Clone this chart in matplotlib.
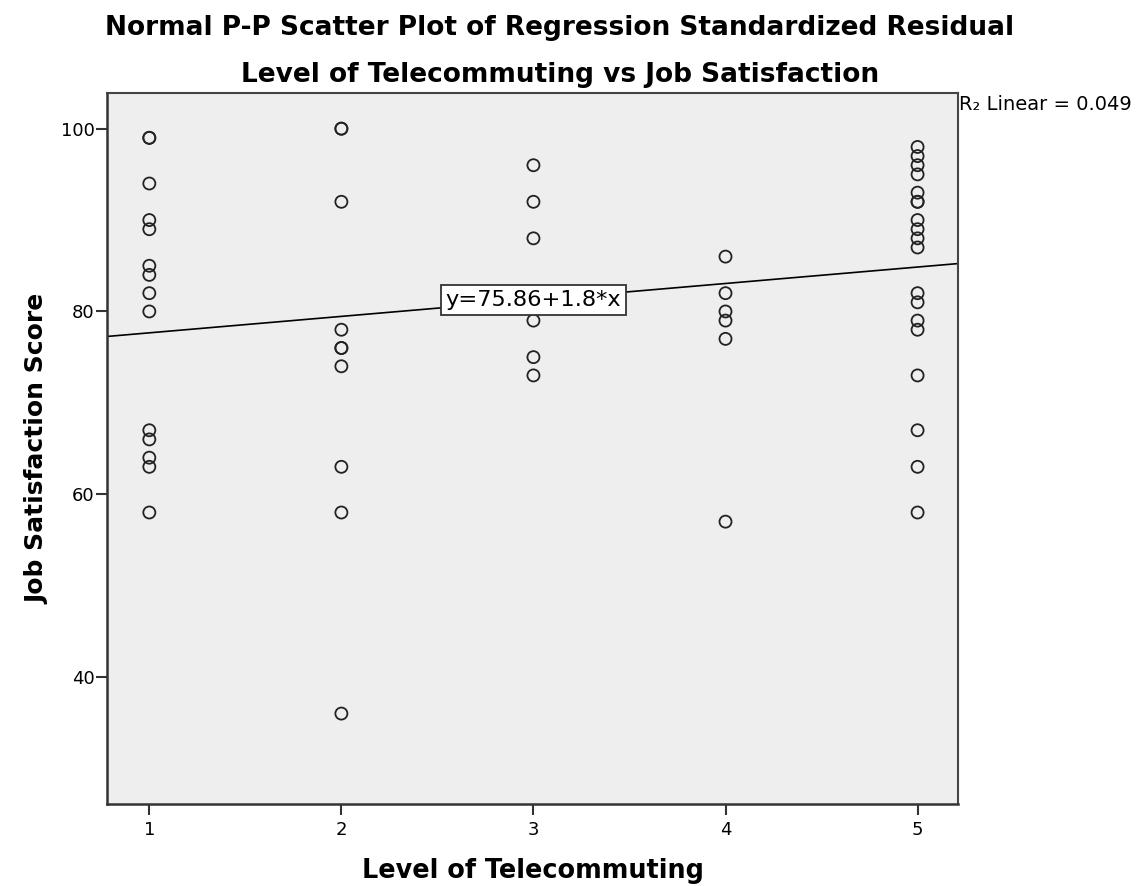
import matplotlib
matplotlib.use("Agg")
import matplotlib.pyplot as plt
import numpy as np

# Job satisfaction scores, grouped by level of telecommuting
level_1 = [99, 99, 94, 90, 89, 85, 84, 82, 80, 67, 66, 64, 63, 58]
level_2 = [100, 100, 92, 78, 76, 76, 74, 63, 58, 36]
level_3 = [96, 92, 88, 79, 75, 73]
level_4 = [86, 82, 80, 79, 77, 57]
level_5 = [98, 97, 96, 95, 93, 92, 92, 90, 89, 88, 87, 82, 81, 79, 78, 73, 67, 63, 58]

levels = [1, 2, 3, 4, 5]
groups = [level_1, level_2, level_3, level_4, level_5]

fit_intercept = 75.86
fit_slope = 1.8
r_squared = 0.049

x_vals = np.concatenate([[lv] * len(g) for lv, g in zip(levels, groups)])
y_vals = np.concatenate(groups)

fig = plt.figure(figsize=(11.39, 8.86), dpi=100)
ax = fig.add_axes([0.094, 0.0925, 0.747, 0.8025])
ax.set_facecolor("#eeeeee")

ax.scatter(x_vals, y_vals, s=75, facecolors="none", edgecolors="#222222",
           linewidths=1.3, zorder=3)

ax.set_xlim(0.78, 5.21)
ax.set_ylim(26.1, 103.9)

# fit line across the whole plot
xl = np.array(ax.get_xlim())
ax.plot(xl, fit_intercept + fit_slope * xl, color="black", lw=1.2, zorder=2)

ax.text(3.0, 81.3, "y=%.2f+%.1f*x" % (fit_intercept, fit_slope), fontsize=16.2,
        ha="center", va="center", zorder=4,
        bbox=dict(boxstyle="square,pad=0.22", fc="white", ec="#333333", lw=1.3))

ax.set_xticks(levels)
ax.set_yticks([40, 60, 80, 100])
ax.tick_params(axis="both", labelsize=13, length=8, width=1.5, color="#333333")
ax.tick_params(axis="y", pad=1)
ax.tick_params(axis="x", pad=4)
for sp in ["top", "right"]:
    ax.spines[sp].set_linewidth(1.5)
    ax.spines[sp].set_color("#444444")
for sp in ["left", "bottom"]:
    ax.spines[sp].set_linewidth(1.8)
    ax.spines[sp].set_color("#333333")

ax.set_xlabel("Level of Telecommuting", fontsize=18.4, fontweight="bold", labelpad=14)
ax.set_ylabel("Job Satisfaction Score", fontsize=18, fontweight="bold", labelpad=8)

fig.text(0.4917, 0.9605, "Normal P-P Scatter Plot of Regression Standardized Residual",
         fontsize=19, fontweight="bold", ha="center", va="baseline")
fig.text(0.4917, 0.9074, "Level of Telecommuting vs Job Satisfaction",
         fontsize=19, fontweight="bold", ha="center", va="baseline")
fig.text(0.842, 0.8758, "R\u2082 Linear = %.3f" % r_squared, fontsize=14,
         ha="left", va="baseline")

plt.savefig("out.png", dpi=100)
